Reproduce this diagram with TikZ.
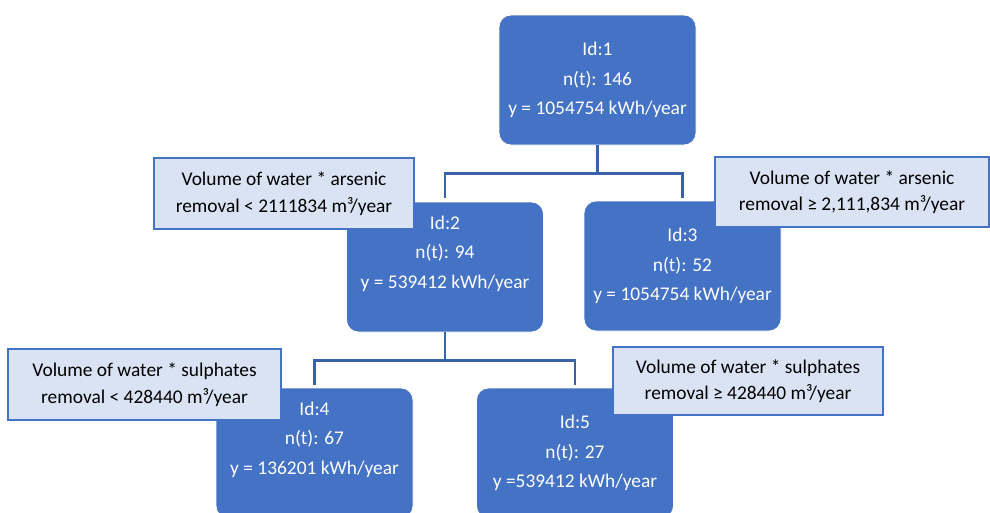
\documentclass[tikz,border=0pt]{standalone}
\usepackage{fontspec}
\setmainfont{Carlito}

\definecolor{uzelmodra}{HTML}{4472C4}
\definecolor{podminkamodra}{HTML}{DAE3F3}
\definecolor{tmavamodra}{HTML}{3A62A8}

\begin{document}
\begin{tikzpicture}[x=1pt,y=-1pt,
        uzel/.style={draw=white, line width=0.8pt, fill=uzelmodra,
            rounded corners=12pt, minimum width=197pt, minimum height=130pt,
            inner sep=0pt, text=white, align=center,
            font=\fontsize{19.4}{29.5}\selectfont},
        podminka/.style={draw=uzelmodra, line width=1.2pt, fill=podminkamodra,
            inner sep=0pt, align=center,
            font=\fontsize{19.4}{26.5}\selectfont},
        vetev/.style={draw=tmavamodra, line width=2.6pt}]

        \clip (0,0) rectangle (990,512);

        % uzly stromu
        \node[uzel] (n1) at (597.5,80) {Id:1\\ n(t): 146\\ y = 1054754 kWh/year};
        \node[uzel] (n2) at (445,267) {Id:2\\ n(t): 94\\ y = 539412 kWh/year\\ \mbox{}};
        \node[uzel] (n3) at (682.5,266) {Id:3\\ n(t): 52\\ y = 1054754 kWh/year};
        \node[uzel] (n4) at (314.5,453) {Id:4\\ n(t): 67\\ y = 136201 kWh/year\\ \mbox{}};
        \node[uzel] (n5) at (575,453) {Id:5\\ n(t): 27\\ y =539412 kWh/year};

        % větve
        \draw[vetev] (n1.south) -- ++(0,28) coordinate (f1);
        \draw[vetev, shorten >=4pt] (f1) -| (n2.north);
        \draw[vetev, shorten >=3pt] (f1) -| (n3.north);

        \draw[vetev] (n2.south) -- ++(0,28) coordinate (f2);
        \draw[vetev, shorten >=3pt] (f2) -| (n4.north);
        \draw[vetev, shorten >=3pt] (f2) -| (n5.north);

        % podmínky dělení
        \node[podminka, minimum width=260pt, minimum height=71pt] (p2) at (284,193.5)
            {Volume of water * arsenic\\ removal < 2111834 m³/year};
        \node[podminka, minimum width=274pt, minimum height=70pt] (p3) at (852,192)
            {Volume of water * arsenic\\ removal ≥ 2,111,834 m³/year};
        \node[podminka, minimum width=273pt, minimum height=71pt] (p4) at (144.5,384.5)
            {Volume of water * sulphates\\ removal < 428440 m³/year};
        \node[podminka, minimum width=270pt, minimum height=68pt] (p5) at (748,381)
            {Volume of water * sulphates\\ removal ≥ 428440 m³/year};

    \end{tikzpicture}
\end{document}
